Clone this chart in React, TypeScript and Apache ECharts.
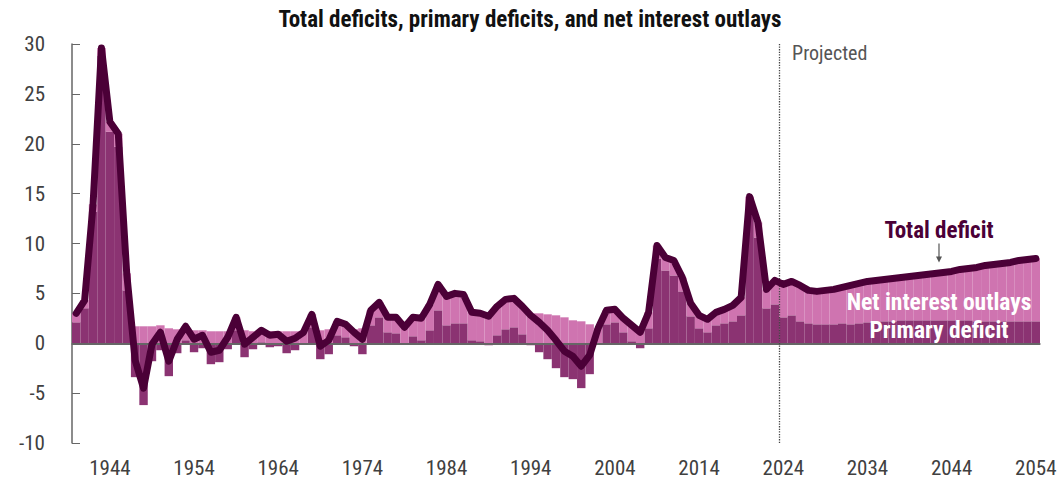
import React, { useEffect, useRef } from "react";
import * as echarts from "echarts";

const FIRST_YEAR = 1940;
const LAST_YEAR = 2054;
const years: string[] = [];
for (let y = FIRST_YEAR; y <= LAST_YEAR; y++) years.push(String(y));

const tickYears = ["1944", "1954", "1964", "1974", "1984", "1994", "2004", "2014", "2024", "2034", "2044", "2054"];
const yTicks = { min: -10, max: 30, step: 5 };

// Percentage of GDP, 1940–2054
const primaryDeficit = [
  2.1, 3.5, 13.2, 28.8, 21.2, 19.7, 5.3, -3.4, -6.2, -1.8,
  -0.7, -3.3, -1.0, 0.3, -0.9, -0.5, -2.1, -1.9, -0.6, 1.3,
  -1.4, -0.6, 0.1, -0.4, -0.3, -1.0, -0.7, -0.1, 1.6, -1.6,
  -1.1, 0.8, 0.6, -0.3, -1.1, 1.8, 2.6, 1.1, 1.0, -0.1,
  0.7, 0.3, 1.3, 3.3, 1.8, 2.0, 2.0, 0.3, 0.2, -0.2,
  0.8, 1.4, 1.6, 0.9, -0.2, -0.9, -1.6, -2.5, -3.4, -3.6,
  -4.5, -3.1, 0.0, 1.9, 2.1, 1.1, 0.2, -0.5, 1.5, 8.5,
  7.3, 6.8, 5.2, 2.7, 1.5, 1.1, 1.8, 2.0, 2.2, 2.8,
  13.1, 10.6, 3.5, 3.9, 2.6, 2.8, 2.2, 2.0, 1.9, 1.9,
  1.9, 2.0, 1.9, 2.0, 2.1, 2.1, 2.2, 2.2, 2.3, 2.3,
  2.3, 2.3, 2.3, 2.3, 2.3, 2.3, 2.3, 2.2, 2.2, 2.2,
  2.2, 2.2, 2.2, 2.2, 2.2,
];

const netInterest = [
  0.9, 0.8, 0.7, 0.8, 1.0, 1.3, 1.7, 1.7, 1.7, 1.7,
  1.8, 1.5, 1.4, 1.4, 1.3, 1.3, 1.2, 1.2, 1.2, 1.3,
  1.3, 1.2, 1.2, 1.2, 1.2, 1.2, 1.2, 1.2, 1.3, 1.3,
  1.4, 1.4, 1.3, 1.4, 1.5, 1.5, 1.5, 1.5, 1.6, 1.7,
  1.9, 2.2, 2.6, 2.6, 2.9, 3.0, 2.9, 2.8, 2.8, 2.9,
  2.9, 3.0, 2.9, 2.8, 3.0, 3.0, 2.9, 2.8, 2.6, 2.3,
  2.2, 1.9, 1.5, 1.4, 1.3, 1.4, 1.6, 1.6, 1.6, 1.3,
  1.3, 1.5, 1.4, 1.3, 1.3, 1.3, 1.3, 1.4, 1.6, 1.8,
  1.6, 1.5, 1.9, 2.4, 3.3, 3.4, 3.6, 3.3, 3.3, 3.4,
  3.5, 3.6, 3.9, 4.0, 4.1, 4.2, 4.2, 4.3, 4.3, 4.4,
  4.5, 4.6, 4.7, 4.8, 4.9, 5.1, 5.2, 5.4, 5.6, 5.7,
  5.8, 5.9, 6.1, 6.2, 6.3,
];

const totalDeficit = [
  3.0, 4.3, 13.9, 29.6, 22.2, 21.0, 7.0, -1.7, -4.5, -0.1,
  1.1, -1.8, 0.4, 1.7, 0.4, 0.8, -0.9, -0.7, 0.6, 2.6,
  -0.1, 0.6, 1.3, 0.8, 0.9, 0.2, 0.5, 1.1, 2.9, -0.3,
  0.3, 2.2, 1.9, 1.1, 0.4, 3.3, 4.1, 2.6, 2.6, 1.6,
  2.6, 2.5, 3.9, 5.9, 4.7, 5.0, 4.9, 3.1, 3.0, 2.7,
  3.7, 4.4, 4.5, 3.7, 2.8, 2.1, 1.3, 0.3, -0.8, -1.3,
  -2.3, -1.2, 1.5, 3.3, 3.4, 2.5, 1.8, 1.1, 3.1, 9.8,
  8.6, 8.3, 6.6, 4.0, 2.8, 2.4, 3.1, 3.4, 3.8, 4.6,
  14.7, 12.1, 5.4, 6.3, 5.9, 6.2, 5.8, 5.3, 5.2, 5.3,
  5.4, 5.6, 5.8, 6.0, 6.2, 6.3, 6.4, 6.5, 6.6, 6.7,
  6.8, 6.9, 7.0, 7.1, 7.2, 7.4, 7.5, 7.6, 7.8, 7.9,
  8.0, 8.1, 8.3, 8.4, 8.5,
];

const projectionStart = 2023.5;

const FONT = "'Liberation Sans Narrow', 'Roboto Condensed', 'DejaVu Sans Condensed', sans-serif";
const C_PRIMARY = "#8B3372";
const C_INTEREST = "#CF74B0";
const C_TOTAL = "#4B0037";
const C_AXIS = "#666666";
const C_TEXT = "#404040";

export default function App() {
  const ref = useRef<HTMLDivElement>(null);

  useEffect(() => {
    if (!ref.current) return;
    const chart = echarts.init(ref.current, undefined, { renderer: "svg" });
    const option: any = {
      animation: false,
      title: {
        text: "Total deficits, primary deficits, and net interest outlays",
        left: "center",
        top: 3,
        textStyle: { fontFamily: FONT, fontSize: 23, fontWeight: "bold", color: "#111111" },
      },
      grid: { left: 72, right: 20, top: 44, bottom: 48, containLabel: false },
      xAxis: [
        {
          type: "category",
          data: years,
          boundaryGap: true,
          axisLine: { show: true, lineStyle: { color: C_AXIS, width: 1.5 } },
          axisTick: {
            show: true,
            inside: true,
            length: 6,
            alignWithLabel: true,
            interval: (_i: number, v: string) => tickYears.includes(v),
            lineStyle: { color: C_AXIS, width: 1 },
          },
          axisLabel: {
            interval: (_i: number, v: string) => tickYears.includes(v),
            fontFamily: FONT,
            fontSize: 21,
            color: C_TEXT,
            margin: 14,
          },
          splitLine: { show: false },
        },
        {
          type: "value",
          min: FIRST_YEAR - 0.5,
          max: LAST_YEAR + 0.5,
          show: false,
        },
      ],
      yAxis: {
        type: "value",
        min: yTicks.min,
        max: yTicks.max,
        interval: yTicks.step,
        axisLine: { show: true, lineStyle: { color: C_AXIS, width: 1.5 } },
        axisTick: { show: true, inside: true, length: 8, lineStyle: { color: C_AXIS, width: 1 } },
        axisLabel: { fontFamily: FONT, fontSize: 21, color: C_TEXT, margin: 27 },
        splitLine: { show: false },
      },
      series: [
        {
          name: "Primary deficit",
          type: "bar",
          stack: "d",
          data: primaryDeficit,
          barCategoryGap: "0%",
          itemStyle: { color: C_PRIMARY },
          z: 2,
        },
        {
          name: "Net interest outlays",
          type: "bar",
          stack: "d",
          data: netInterest,
          barCategoryGap: "0%",
          itemStyle: { color: C_INTEREST },
          z: 2,
        },
        {
          name: "Total deficit",
          type: "line",
          data: totalDeficit,
          symbol: "none",
          lineStyle: { color: C_TOTAL, width: 7, join: "round", cap: "round" },
          z: 5,
        },
        {
          name: "guides",
          type: "line",
          xAxisIndex: 1,
          data: [],
          symbol: "none",
          z: 3,
          markLine: {
            silent: true,
            symbol: "none",
            label: { show: false },
            data: [
              { yAxis: 0, lineStyle: { color: C_AXIS, width: 2, type: "solid" } },
              { xAxis: projectionStart, lineStyle: { color: "#444", width: 1.3, type: "dotted" } },
            ],
          },
        },
      ],
    };
    chart.setOption(option);

    const px = (x: number, y: number) => chart.convertToPixel({ seriesIndex: 3 }, [x, y]) as number[];
    const proj = px(projectionStart, 29.1);
    const lblX = 2042.5;
    const td = px(lblX, 11.3);
    const a0 = px(lblX, 10.0);
    const a1 = px(lblX, 8.1);
    const ni = px(lblX, 4.1);
    const pd = px(lblX, 1.3);

    chart.setOption({
      graphic: [
        {
          type: "text",
          x: proj[0] + 13,
          y: proj[1],
          style: { text: "Projected", fontFamily: FONT, fontSize: 20, fill: "#555", textVerticalAlign: "middle", textAlign: "left" },
          z: 10,
        },
        {
          type: "text",
          x: td[0],
          y: td[1],
          style: { text: "Total deficit", fontFamily: FONT, fontSize: 23, fontWeight: "bold", fill: C_TOTAL, textAlign: "center", textVerticalAlign: "middle" },
          z: 10,
        },
        {
          type: "line",
          shape: { x1: a0[0], y1: a0[1], x2: a1[0], y2: a1[1] - 4 },
          style: { stroke: "#555", lineWidth: 1.2 },
          z: 10,
        },
        {
          type: "polygon",
          shape: { points: [[a1[0] - 3, a1[1] - 6], [a1[0] + 3, a1[1] - 6], [a1[0], a1[1]]] },
          style: { fill: "#555" },
          z: 10,
        },
        {
          type: "text",
          x: ni[0],
          y: ni[1],
          style: { text: "Net interest outlays", fontFamily: FONT, fontSize: 23.5, fontWeight: "bold", fill: "#ffffff", textAlign: "center", textVerticalAlign: "middle" },
          z: 10,
        },
        {
          type: "text",
          x: pd[0],
          y: pd[1],
          style: { text: "Primary deficit", fontFamily: FONT, fontSize: 23.5, fontWeight: "bold", fill: "#ffffff", textAlign: "center", textVerticalAlign: "middle" },
          z: 10,
        },
      ],
    });

    return () => chart.dispose();
  }, []);

  return (
    <div
      ref={ref}
      style={{ position: "absolute", left: 0, top: 0, width: 1060, height: 491 }}
    />
  );
}
